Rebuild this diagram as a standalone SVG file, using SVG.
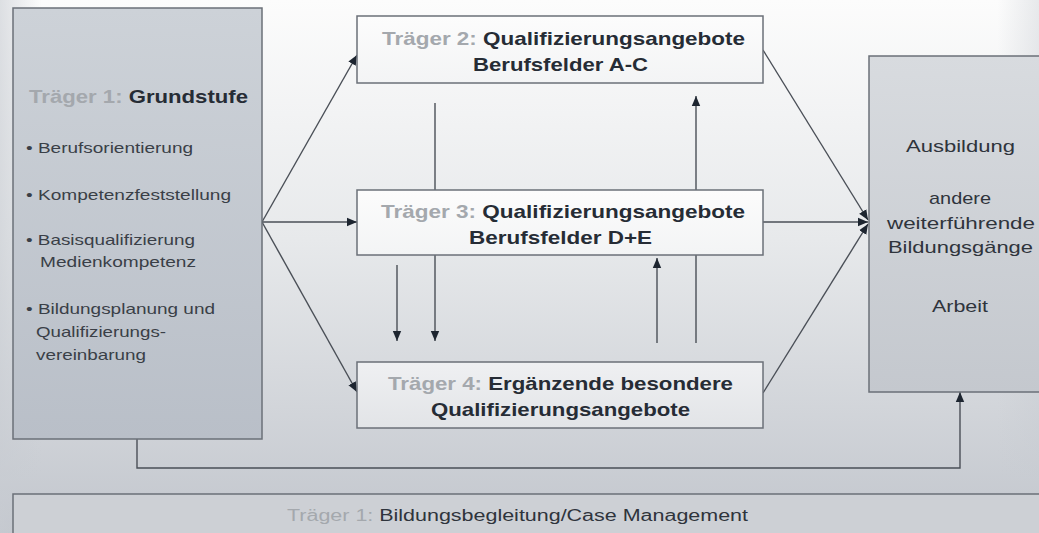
<svg xmlns="http://www.w3.org/2000/svg" width="1039" height="533" viewBox="0 0 1039 533">
  <defs>
    <linearGradient id="bg" x1="0" y1="0" x2="0" y2="1">
      <stop offset="0" stop-color="#fcfcfc"/>
      <stop offset="0.45" stop-color="#e7e9eb"/>
      <stop offset="1" stop-color="#c2c6cd"/>
    </linearGradient>
    <linearGradient id="bgSide" x1="0" y1="0" x2="1" y2="0">
      <stop offset="0" stop-color="#c8ccd2" stop-opacity="0.6"/>
      <stop offset="0.04" stop-color="#c8ccd2" stop-opacity="0"/>
      <stop offset="0.96" stop-color="#c8ccd2" stop-opacity="0"/>
      <stop offset="1" stop-color="#c8ccd2" stop-opacity="0.4"/>
    </linearGradient>
    <linearGradient id="darkBox" x1="0" y1="0" x2="0" y2="1">
      <stop offset="0" stop-color="#cdd2d8"/>
      <stop offset="1" stop-color="#b9bfc8"/>
    </linearGradient>
    <linearGradient id="rightBox" x1="0" y1="0" x2="0" y2="1">
      <stop offset="0" stop-color="#d8dbdf"/>
      <stop offset="1" stop-color="#c4c8ce"/>
    </linearGradient>
    <linearGradient id="lightBox" x1="0" y1="0" x2="0" y2="1">
      <stop offset="0" stop-color="#fcfcfc"/>
      <stop offset="1" stop-color="#f3f4f5"/>
    </linearGradient>
    <linearGradient id="lowBox" x1="0" y1="0" x2="0" y2="1">
      <stop offset="0" stop-color="#eff0f2"/>
      <stop offset="1" stop-color="#e2e4e7"/>
    </linearGradient>
    <marker id="arrow" viewBox="0 0 10 10" refX="10" refY="5" markerWidth="10" markerHeight="10" markerUnits="userSpaceOnUse" orient="auto">
      <path d="M0,0.8 L10,5 L0,9.2 Z" fill="#1d2530"/>
    </marker>
  </defs>
  <style>
    .box { stroke: #6b7078; stroke-width: 1.5; }
    .conn { fill: none; stroke: #4a4f57; stroke-width: 1.4; }
    .head { marker-end: url(#arrow); }
    text { font-family: "Liberation Sans", Arial, sans-serif; fill: #262c35; }
    .title { font-size: 18.5px; font-weight: bold; }
    .tag { fill: #a4a8ad; }
    .item { font-size: 15px; fill: #3a3f47; }
    .out { font-size: 17px; fill: #2f343c; }
    .band { font-size: 16px; fill: #2f343c; }
  </style>

  <!-- background -->
  <rect x="0" y="0" width="1039" height="533" fill="url(#bg)"/>
  <rect x="0" y="0" width="1039" height="533" fill="url(#bgSide)"/>

  <!-- connectors -->
  <g id="connectors">
    <!-- Grundstufe to the three offers -->
    <path class="conn head" d="M262,222 L357,55"/>
    <path class="conn head" d="M262,222 L357,222"/>
    <path class="conn head" d="M262,222 L357,392"/>
    <!-- offers to the outcomes -->
    <path class="conn head" d="M763,50 L868,220"/>
    <path class="conn head" d="M763,222 L868,222"/>
    <path class="conn head" d="M763,393 L868,224"/>
    <!-- vertical links between the offers -->
    <path class="conn head" d="M435,103 L435,341"/>
    <path class="conn head" d="M397,265 L397,341"/>
    <path class="conn head" d="M696,343 L696,96"/>
    <path class="conn head" d="M657,343 L657,258"/>
    <!-- direct route from Grundstufe to the outcomes -->
    <path class="conn head" d="M137,439 L137,468 L960,468 L960,392"/>
  </g>

  <g id="grundstufe">
    <rect class="box" x="13" y="8" width="249" height="431" fill="url(#darkBox)"/>
    <text class="title" x="29" y="103" textLength="219" lengthAdjust="spacingAndGlyphs"><tspan class="tag">Träger 1: </tspan>Grundstufe</text>
    <text class="item" x="26" y="153" textLength="167" lengthAdjust="spacingAndGlyphs">• Berufsorientierung</text>
    <text class="item" x="26" y="200" textLength="205" lengthAdjust="spacingAndGlyphs">• Kompetenzfeststellung</text>
    <text class="item" x="26" y="245" textLength="169" lengthAdjust="spacingAndGlyphs">• Basisqualifizierung</text>
    <text class="item" x="40" y="267" textLength="156" lengthAdjust="spacingAndGlyphs">Medienkompetenz</text>
    <text class="item" x="26" y="314" textLength="189" lengthAdjust="spacingAndGlyphs">• Bildungsplanung und</text>
    <text class="item" x="36" y="337" textLength="130" lengthAdjust="spacingAndGlyphs">Qualifizierungs-</text>
    <text class="item" x="36" y="360" textLength="110" lengthAdjust="spacingAndGlyphs">vereinbarung</text>
  </g>

  <g id="traeger2">
    <rect class="box" x="357" y="16" width="406" height="67" fill="url(#lightBox)"/>
    <text class="title" x="382" y="45" textLength="363" lengthAdjust="spacingAndGlyphs"><tspan class="tag">Träger 2: </tspan>Qualifizierungsangebote</text>
    <text class="title" x="473" y="71" textLength="175" lengthAdjust="spacingAndGlyphs">Berufsfelder A-C</text>
  </g>

  <g id="traeger3">
    <rect class="box" x="357" y="190" width="406" height="65" fill="url(#lightBox)"/>
    <text class="title" x="381" y="218" textLength="364" lengthAdjust="spacingAndGlyphs"><tspan class="tag">Träger 3: </tspan>Qualifizierungsangebote</text>
    <text class="title" x="469" y="244" textLength="183" lengthAdjust="spacingAndGlyphs">Berufsfelder D+E</text>
  </g>

  <g id="traeger4">
    <rect class="box" x="357" y="362" width="406" height="66" fill="url(#lowBox)"/>
    <text class="title" x="388" y="390" textLength="345" lengthAdjust="spacingAndGlyphs"><tspan class="tag">Träger 4: </tspan>Ergänzende besondere</text>
    <text class="title" x="431" y="416" textLength="259" lengthAdjust="spacingAndGlyphs">Qualifizierungsangebote</text>
  </g>

  <g id="anschluss">
    <rect class="box" x="869" y="56" width="180" height="336" fill="url(#rightBox)"/>
    <text class="out" x="906" y="152" textLength="109" lengthAdjust="spacingAndGlyphs">Ausbildung</text>
    <text class="out" x="929" y="204" textLength="62" lengthAdjust="spacingAndGlyphs">andere</text>
    <text class="out" x="887" y="229" textLength="148" lengthAdjust="spacingAndGlyphs">weiterführende</text>
    <text class="out" x="888" y="253" textLength="145" lengthAdjust="spacingAndGlyphs">Bildungsgänge</text>
    <text class="out" x="932" y="312" textLength="56" lengthAdjust="spacingAndGlyphs">Arbeit</text>
  </g>

  <g id="begleitung">
    <rect class="box" x="13" y="494" width="1040" height="50" fill="#cdd0d5"/>
    <text class="band" x="287" y="521" textLength="461" lengthAdjust="spacingAndGlyphs"><tspan class="tag">Träger 1: </tspan>Bildungsbegleitung/Case Management</text>
  </g>
</svg>
